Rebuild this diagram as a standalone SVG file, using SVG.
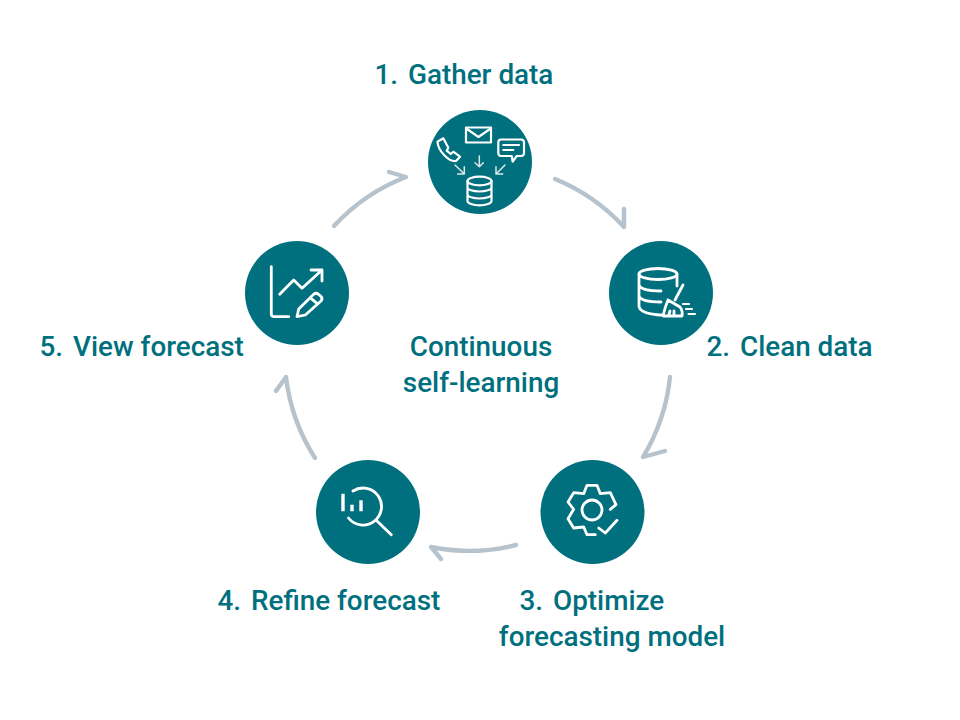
<svg xmlns="http://www.w3.org/2000/svg" width="960" height="720" viewBox="0 0 960 720">
  <style>
    .disc { fill: #00707e; }
    .label { font-family: Roboto, "Liberation Sans", sans-serif; font-size: 27.85px; font-weight: 500; fill: #00707e; }
    .mid { text-anchor: middle; }
    .ico { fill: none; stroke: #fff; stroke-width: 2.8; stroke-linecap: round; stroke-linejoin: round; }
    .thin { stroke-width: 1.5; stroke: #dbe8ea; }
    .fine { stroke-width: 2.2; }
    .flow { fill: none; stroke: #b7c3cc; stroke-width: 4.4; stroke-linecap: round; stroke-linejoin: round; }
  </style>
  <rect width="960" height="720" fill="#fff"/>

  <g id="connectors">
    <path class="flow" d="M555 179A192 192 0 0 1 624 227L624 209"/>
    <path class="flow" d="M670 377A192 192 0 0 1 643 457L665 451"/>
    <path class="flow" d="M516 545A192 192 0 0 1 431 547L441 559"/>
    <path class="flow" d="M315 458A192 192 0 0 1 286 377L276 391"/>
    <path class="flow" d="M334 226A192 192 0 0 1 406 177L389 172"/>
  </g>

  <g id="node-gather">
    <circle class="disc" cx="480" cy="162" r="52"/>
    <text class="label" x="374.500" y="84">1.<tspan dx="3"> Gather data</tspan></text>
    <rect class="ico fine" x="466" y="127.500" width="25" height="15"/>
    <path class="ico fine" d="M467 129L478.500 137L490 129"/>
    <path class="ico fine" d="M437.500 141.700L443.300 138.300L448.300 147.700L446.700 150.700L450.700 154L453.300 151.700L460 156.700L456 161C449 162 438 151 437.500 141.700Z"/>
    <path class="ico fine" d="M501 139.500H521Q524 139.500 524 142.500V153Q524 156 521 156H516.700L512.700 161.700L511.700 156H501Q498.300 156 498.300 153V142.500Q498.300 139.500 501 139.500ZM503.300 145H519M503.300 150H513.300"/>
    <path class="ico thin" d="M479.300 156V166.700M475 162.700L479.300 166.700L483.300 162.700M455 165L464.300 174M457.700 174H464.300V166.700M505 165L496 174M496 166.700V174H502.700"/>
    <ellipse class="ico fine" cx="479.500" cy="181" rx="12" ry="4.300"/>
    <path class="ico fine" d="M467.500 181V201A12 4.300 0 0 0 491.500 201V181M467.500 187.500A12 4 0 0 0 491.500 187.500M467.500 194.500A12 4 0 0 0 491.500 194.500"/>
  </g>

  <g id="node-clean">
    <circle class="disc" cx="661" cy="293" r="52"/>
    <text class="label" x="706.500" y="356">2.<tspan dx="3"> Clean data</tspan></text>
    <ellipse class="ico" cx="658" cy="274" rx="19" ry="5.500"/>
    <path class="ico" d="M639 274V306Q639 313 659 315H661M677 274V286M639 285Q641 291 661 291M639 296Q641 302 661 302"/>
    <path class="ico" d="M683 285L675 300M668 300L680 307M668 300Q665 307 663 316H682Q683 311 680 307M668.500 316L670 311M674 316V311"/>
    <path class="ico fine" d="M683 304H689M686 309H692M688.500 314H695"/>
  </g>

  <g id="node-optimize">
    <circle class="disc" cx="592.500" cy="512" r="52"/>
    <text class="label" x="519.500" y="610">3.<tspan dx="3"> Optimize</tspan></text>
    <text class="label mid" x="612" y="646">forecasting model</text>
    <circle class="ico" cx="592" cy="510" r="10"/>
    <path class="ico" d="M610.300 509.300L616 504.700L610.300 492.700L600.300 493.700L597 485.300H587L583.700 493.700L573.700 492.700L568 502L573.700 509.300L568 518.700L573.700 528L583.700 527L587 534.700H595.300"/>
    <path class="ico" d="M598.700 528L605.300 533L617 520.300"/>
  </g>

  <g id="node-refine">
    <circle class="disc" cx="368" cy="512" r="52"/>
    <text class="label" x="217.500" y="610">4.<tspan dx="3"> Refine forecast</tspan></text>
    <path class="ico" d="M353 491A18.500 18.500 0 1 1 348.500 518"/>
    <path class="ico" d="M377 521L391.300 534.700"/>
    <path fill="#fff" d="M341.300 493.700H344.700V511.300H341.300ZM350.300 504.700H353.700V511.300H350.300ZM359.300 500.300H362.700V511.300H359.300Z"/>
  </g>

  <g id="node-forecast">
    <circle class="disc" cx="297" cy="293" r="52"/>
    <text class="label" x="39.500" y="356">5.<tspan dx="3"> View forecast</tspan></text>
    <path class="ico" d="M271.300 266.700V313.700Q271.300 316.700 274.300 316.700H288.700"/>
    <path class="ico" d="M279.700 294.300L293.700 280L302 288.300L322 270M311 270H322V281"/>
    <path class="ico" d="M297 316.700L298.700 309L313.700 294.300Q316 292.300 318.500 294.300L321 296.500Q323 298.800 321 301L305.300 315ZM311 298.300L317 303.300"/>
  </g>

  <g id="center-title">
    <text class="label mid" x="481" y="356">Continuous</text>
    <text class="label mid" x="481" y="392">self-learning</text>
  </g>
</svg>
